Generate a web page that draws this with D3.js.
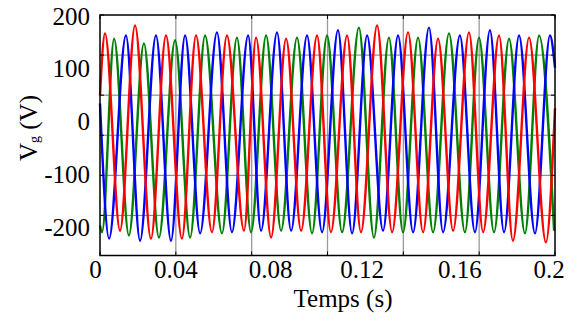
<!DOCTYPE html>
<html>
<head>
<meta charset="utf-8">
<script src="https://cdn.jsdelivr.net/npm/d3@7"></script>
<style>
  html, body { margin: 0; padding: 0; background: #fff; }
  svg { display: block; }
  text { font-family: "Liberation Serif", "Times New Roman", serif; fill: #000; }
</style>
</head>
<body>
<svg id="chart" width="575" height="320"></svg>
<script>
// ---- data ----
const redT = [0, 0.0022, 0.0088, 0.0154, 0.0224, 0.0290, 0.0360, 0.0422, 0.0492, 0.0558, 0.0633, 0.0686, 0.0752, 0.0818, 0.0884, 0.0954, 0.1015, 0.1086, 0.1147, 0.1218, 0.1284, 0.1354, 0.1420, 0.1486, 0.1552, 0.1622, 0.1684, 0.1754, 0.1815, 0.1886, 0.1960, 0.2];
const redV = [49, 167, -207, 182, -222, 163, -222, 163, -210, 163, -207, 159, -220, 157, -207, 163, -210, 163, -210, 182, -210, 169, -210, 157, -207, 169, -210, 163, -226, 159, -229, 25];

const blueT = [0, 0.0040, 0.0114, 0.0176, 0.0246, 0.0312, 0.0374, 0.0440, 0.0514, 0.0580, 0.0651, 0.0708, 0.0778, 0.0840, 0.0910, 0.0976, 0.1046, 0.1108, 0.1174, 0.1244, 0.1310, 0.1376, 0.1446, 0.1508, 0.1582, 0.1648, 0.1714, 0.1776, 0.1842, 0.1912, 0.1978, 0.2];
const blueV = [34, -222, 163, -226, 163, -226, 163, -212, 169, -210, 163, -207, 169, -207, 163, -210, 173, -212, 163, -207, 163, -210, 178, -210, 163, -210, 173, -210, 163, -212, 163, 102];

const greenT = [0, 0.0009, 0.0062, 0.0127, 0.0193, 0.0259, 0.0330, 0.0396, 0.0462, 0.0536, 0.0602, 0.0664, 0.0730, 0.0796, 0.0866, 0.0932, 0.0998, 0.1064, 0.1138, 0.1204, 0.1270, 0.1332, 0.1398, 0.1464, 0.1534, 0.1604, 0.1666, 0.1732, 0.1798, 0.1868, 0.1930, 0.1996];
const greenV = [-197, -210, 157, -216, 148, -220, 154, -220, 163, -212, 159, -210, 163, -207, 159, -212, 163, -210, 178, -220, 159, -210, 159, -210, 167, -210, 159, -210, 157, -212, 163, -207];

const xTickLabels = ["0", "0.04", "0.08", "0.12", "0.16", "0.2"];
const xTickLabelAt = [-0.002, 0.0334, 0.0750, 0.1152, 0.1582, 0.1974];
const yTickLabels = ["200", "100", "0", "-100", "-200"];
const yTickValues = [200, 100, 0, -100, -200];
const xDomain = [0, 0.2];

// ---- layout ----
const svg = d3.select("#chart");
const box = { left: 100, right: 555, top: 15, bottom: 255.5 };
const x = d3.scaleLinear().domain(xDomain).range([box.left, box.right]);
const y = d3.scaleLinear().domain([-200, 200]).range([227, 16]);

const nDiv = 6;
const gridX = d3.range(nDiv + 1).map(i => box.left + i * (box.right - box.left) / nDiv);
const gridY = d3.range(nDiv + 1).map(i => box.top + i * (box.bottom - box.top) / nDiv);

const g = svg.append("g");
// grid
g.selectAll(".gx").data(gridX.slice(1, -1)).enter().append("line")
  .attr("x1", d => d).attr("x2", d => d).attr("y1", box.top).attr("y2", box.bottom)
  .attr("stroke", "#9a9a9a").attr("stroke-width", 1.3);
g.selectAll(".gy").data(gridY.slice(1, -1)).enter().append("line")
  .attr("y1", d => d).attr("y2", d => d).attr("x1", box.left).attr("x2", box.right)
  .attr("stroke", "#7a7a7a").attr("stroke-width", 1);

// series
const series = [
  { t: greenT, v: greenV, c: "#008000" },
  { t: blueT, v: blueV, c: "#0000ff" },
  { t: redT, v: redV, c: "#ff0000" }
];
const line = d3.line().x(d => x(d[0])).y(d => y(d[1])).curve(d3.curveMonotoneX);
series.forEach(s => {
  g.append("path")
    .datum(s.t.map((t, i) => [t, s.v[i]]))
    .attr("d", line)
    .attr("fill", "none")
    .attr("stroke", s.c)
    .attr("stroke-width", 2.4)
    .attr("stroke-linejoin", "round");
});

// ticks (inside, all four sides)
const tl = 4;
gridX.forEach(px => {
  g.append("line").attr("x1", px).attr("x2", px).attr("y1", box.bottom).attr("y2", box.bottom - tl).attr("stroke", "#000");
  g.append("line").attr("x1", px).attr("x2", px).attr("y1", box.top).attr("y2", box.top + tl).attr("stroke", "#000");
});
gridY.forEach(py => {
  g.append("line").attr("y1", py).attr("y2", py).attr("x1", box.left).attr("x2", box.left + tl).attr("stroke", "#000");
  g.append("line").attr("y1", py).attr("y2", py).attr("x1", box.right).attr("x2", box.right - tl).attr("stroke", "#000");
});

// frame
g.append("rect")
  .attr("x", box.left).attr("y", box.top)
  .attr("width", box.right - box.left).attr("height", box.bottom - box.top)
  .attr("fill", "none").attr("stroke", "#000").attr("stroke-width", 1.5);

// tick labels
g.selectAll(".xl").data(xTickLabels).enter().append("text")
  .attr("x", (d, i) => x(xTickLabelAt[i]))
  .attr("y", 278)
  .attr("text-anchor", "middle")
  .attr("font-size", 25)
  .text(d => d);
g.selectAll(".yl").data(yTickLabels).enter().append("text")
  .attr("x", 90)
  .attr("y", (d, i) => y(yTickValues[i]))
  .attr("dy", "0.34em")
  .attr("text-anchor", "end")
  .attr("font-size", 25)
  .text(d => d);

// axis titles
svg.append("text")
  .attr("x", 343).attr("y", 307)
  .attr("text-anchor", "middle")
  .attr("font-size", 25)
  .text("Temps (s)");

const yt = svg.append("text")
  .attr("transform", "translate(37,128) rotate(-90)")
  .attr("text-anchor", "middle")
  .attr("font-size", 25);
yt.append("tspan").text("V");
yt.append("tspan").attr("font-size", 14).attr("dy", 2).text("g");
yt.append("tspan").attr("dy", -2).text(" (V)");
</script>
</body>
</html>
